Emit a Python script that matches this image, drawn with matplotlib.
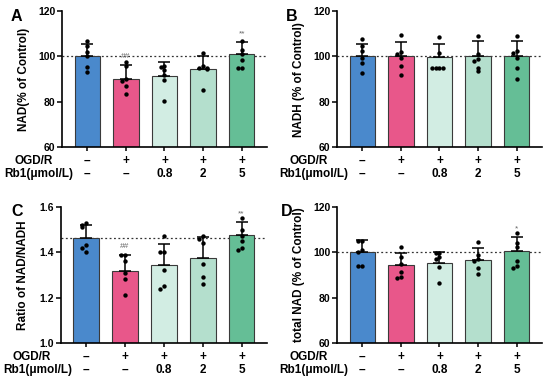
import matplotlib.pyplot as plt
import numpy as np

plt.rcParams['font.family'] = ['Liberation Sans', 'DejaVu Sans']
plt.rcParams['font.weight'] = 'bold'

colors = ['#4A89CC', '#E8578A', '#D2EDE3', '#B4DFCD', '#65BE96']
ogd_labels = ['\u2013', '+', '+', '+', '+']
rb1_labels = ['\u2013', '\u2013', '0.8', '2', '5']

# panel A: NAD
nad_mean = [100.0, 90.1, 91.3, 94.3, 100.9]
nad_sd = [5.4, 6.1, 6.1, 5.7, 5.4]
nad_pts = [[107, 104.5, 102, 100, 95.5, 93],
           [97.5, 96, 90, 89, 87, 83.5],
           [96, 95.5, 94, 92, 89.5, 80.5],
           [101.5, 96, 95, 95, 94.5, 85],
           [107, 103, 101, 98.5, 95, 95]]
nad_sig = ['', '##', '', '', '**']

# panel B: NADH
nadh_mean = [100.0, 100.0, 99.6, 100.3, 100.0]
nadh_sd = [5.7, 6.3, 6.1, 6.7, 6.8]
nadh_pts = [[107.5, 104.5, 102.5, 99.5, 97, 92.5],
            [109.5, 102, 101, 99.5, 96, 92],
            [108.5, 101.5, 95, 95, 95, 95],
            [109, 101, 99, 98, 95, 93.5],
            [109, 102.5, 101.5, 99.5, 95, 90]]
nadh_sig = ['', '', '', '', '']

# panel C: NAD/NADH ratio
ratio_mean = [1.463, 1.316, 1.344, 1.374, 1.477]
ratio_sd = [0.059, 0.074, 0.093, 0.093, 0.055]
ratio_pts = [[1.53, 1.52, 1.51, 1.43, 1.42, 1.40],
             [1.39, 1.39, 1.36, 1.31, 1.28, 1.21],
             [1.47, 1.40, 1.40, 1.32, 1.25, 1.24],
             [1.47, 1.46, 1.44, 1.35, 1.29, 1.26],
             [1.55, 1.50, 1.47, 1.45, 1.42, 1.41]]
ratio_sig = ['', '##', '', '', '**']

# panel D: total NAD
tot_mean = [100.0, 94.4, 95.2, 96.6, 100.4]
tot_sd = [5.5, 5.4, 4.8, 5.4, 6.2]
tot_pts = [[105, 105, 101, 100, 94, 94],
           [102.5, 98, 95, 91.5, 89, 88.5],
           [99.5, 99.5, 98, 97, 93.5, 86.5],
           [104.5, 99, 97, 96, 93, 90.5],
           [108.5, 104, 102.5, 96, 94, 93]]
tot_sig = ['', '', '', '', '*']

panels = [
    ('A', 'NAD(% of Control)', nad_mean, nad_sd, nad_pts, nad_sig, (60, 120), [60, 80, 100, 120], 100),
    ('B', 'NADH (% of Control)', nadh_mean, nadh_sd, nadh_pts, nadh_sig, (60, 120), [60, 80, 100, 120], 100),
    ('C', 'Ratio of NAD/NADH', ratio_mean, ratio_sd, ratio_pts, ratio_sig, (1.0, 1.6), [1.0, 1.2, 1.4, 1.6], 1.463),
    ('D', 'total NAD (% of Control)', tot_mean, tot_sd, tot_pts, tot_sig, (60, 120), [60, 80, 100, 120], 100),
]

rects = [[0.113, 0.617, 0.372, 0.354], [0.613, 0.617, 0.372, 0.354],
         [0.111, 0.107, 0.374, 0.354], [0.613, 0.107, 0.372, 0.354]]
letter_pos = [(0.020, 0.977), (0.520, 0.977), (0.020, 0.468), (0.510, 0.470)]

fig = plt.figure(figsize=(5.5, 3.84), dpi=100)
x = np.arange(5)

for rect, lp, (letter, ylab, mean, sd, pts, sig, ylim, yt, ref) in zip(rects, letter_pos, panels):
    ax = fig.add_axes(rect)
    span = ylim[1] - ylim[0]
    ax.bar(x, mean, width=0.66, color=colors, edgecolor='#3a3a3a', linewidth=0.8, zorder=2)
    ax.errorbar(x, mean, yerr=[np.zeros(5), sd], fmt='none', ecolor='black',
                elinewidth=1.1, capsize=4, capthick=1.1, zorder=3)
    for i, vals in enumerate(pts):
        offs = []
        for j, v in enumerate(vals):
            n = sum(1 for w in vals[:j] if abs(w - v) < span * 0.02)
            offs.append([0, -1, 1, -2, 2, -3][n] * 0.1)
        ax.scatter(x[i] + np.array(offs), vals, s=10, color='black', zorder=4, linewidths=0)
        if sig[i]:
            ax.text(x[i], mean[i] + sd[i] + span * 0.035, sig[i], ha='center', va='bottom',
                    fontsize=6, color='#666666', fontweight='normal')
    ax.axhline(ref, color='#333333', linestyle=(0, (1.5, 2)), linewidth=0.9, zorder=1)
    ax.set_xlim(-0.65, 4.65)
    ax.set_ylim(*ylim)
    ax.set_yticks(yt)
    ax.set_yticklabels([f'{t:g}' if span > 1 else f'{t:.1f}' for t in yt], fontsize=7.5, fontweight='bold')
    ax.set_xticks(x)
    ax.set_xticklabels([])
    ax.set_ylabel(ylab, fontsize=8.5, fontweight='bold')
    ax.yaxis.set_label_coords(-0.155, 0.5)
    for s in ['top', 'right']:
        ax.spines[s].set_visible(False)
    for s in ['left', 'bottom']:
        ax.spines[s].set_linewidth(1.2)
    ax.tick_params(axis='y', length=3.5, width=1.1, pad=1.5)
    ax.tick_params(axis='x', length=3, width=1.1)
    tr = ax.get_xaxis_transform()
    for i in range(5):
        ax.text(x[i], -0.1, ogd_labels[i], transform=tr, ha='center', va='center', fontsize=8.5, fontweight='bold')
        ax.text(x[i], -0.2, rb1_labels[i], transform=tr, ha='center', va='center', fontsize=8.5, fontweight='bold')
    ax.text(-1.40, -0.1, 'OGD/R', transform=tr, ha='center', va='center', fontsize=8.5, fontweight='bold', clip_on=False)
    ax.text(-1.25, -0.2, 'Rb1(\u03bcmol/L)', transform=tr, ha='center', va='center', fontsize=8.5, fontweight='bold', clip_on=False)
    fig.text(lp[0], lp[1], letter, ha='left', va='top', fontsize=11.5, fontweight='bold')

fig.savefig('out.png', dpi=100)
